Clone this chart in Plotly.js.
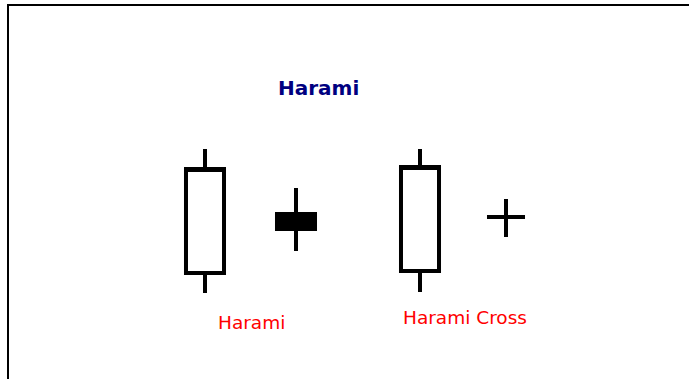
<!DOCTYPE html>
<html>
<head>
<meta charset="utf-8">
<script src="https://cdn.plot.ly/plotly-3.0.1.min.js"></script>
<style>html,body{margin:0;padding:0;background:#fff;}#chart{width:689px;height:379px;}</style>
</head>
<body>
<div id="chart"></div>
<script>
// Candle positions and OHLC values
var positions = [205, 296, 420, 506];
var openVals  = [106, 165, 108, 162];
var highVals  = [230, 191, 230, 180];
var lowVals   = [86, 128, 87, 142];
var closeVals = [210, 150, 212, 162];

var titleText = 'Harami';
var labelTexts = ['Harami', 'Harami Cross'];
var labelX = [251, 465];
var labelY = [57, 62];

var trace = {
  type: 'candlestick',
  x: positions,
  open: openVals,
  high: highVals,
  low: lowVals,
  close: closeVals,
  whiskerwidth: 0,
  increasing: {line: {color: '#000000', width: 4}, fillcolor: '#ffffff'},
  decreasing: {line: {color: '#000000', width: 4}, fillcolor: '#000000'},
  hoverinfo: 'skip',
  showlegend: false
};

var annotations = [{
  text: titleText, x: 318, y: 291, xref: 'x', yref: 'y',
  showarrow: false, xanchor: 'center', yanchor: 'middle',
  font: {family: 'DejaVu Sans', size: 20, color: '#000080', weight: 'bold'}
}];
for (var i = 0; i < labelTexts.length; i++) {
  annotations.push({
    text: labelTexts[i], x: labelX[i], y: labelY[i], xref: 'x', yref: 'y',
    showarrow: false, xanchor: 'center', yanchor: 'middle',
    font: {family: 'DejaVu Sans', size: 18.5, color: '#ff0000'}
  });
}

var layout = {
  width: 689, height: 379,
  margin: {l: 9, r: 0, t: 6, b: 0, pad: 0},
  paper_bgcolor: '#ffffff', plot_bgcolor: '#ffffff',
  boxgap: 0.558, boxgroupgap: 0,
  xaxis: {
    range: [9, 689], side: 'top', showline: true, linecolor: '#000000', linewidth: 2,
    showgrid: false, zeroline: false, showticklabels: false, ticks: '',
    rangeslider: {visible: false}, fixedrange: true
  },
  yaxis: {
    range: [0, 373], showline: true, linecolor: '#000000', linewidth: 2,
    showgrid: false, zeroline: false, showticklabels: false, ticks: '', fixedrange: true
  },
  annotations: annotations,
  hovermode: false
};

Plotly.newPlot('chart', [trace], layout, {displayModeBar: false, staticPlot: true});
</script>
</body>
</html>
